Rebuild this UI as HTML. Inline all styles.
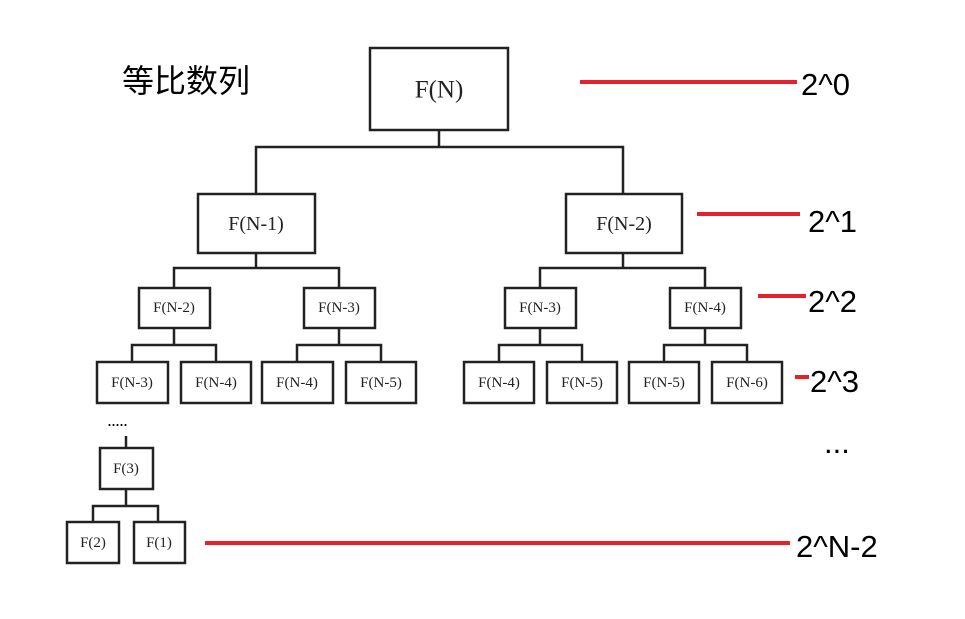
<!DOCTYPE html>
<html><head><meta charset="utf-8"><style>
html,body{margin:0;padding:0;background:#fff;}
svg{display:block;}
.b{fill:#fff;stroke:#222;stroke-width:2.5;}
.l{stroke:#222;stroke-width:2.5;fill:none;}
.r{stroke:#e8202a;stroke-width:4;}
.t{font-family:"Liberation Serif",serif;fill:#222;text-anchor:middle;dominant-baseline:central;}
.s{font-family:"Liberation Sans","Noto Sans CJK SC",sans-serif;fill:#000;}
</style></head><body>
<svg width="965" height="619" viewBox="0 0 965 619" xmlns="http://www.w3.org/2000/svg">
<text class="s" x="122" y="92" font-size="32">等比数列</text>
<!-- connectors -->
<path class="l" d="M439 130V147M256 194V147H623V194"/>
<path class="l" d="M256 253V268M174 288V268H339V288M623 253V268M540 288V268H705V288"/>
<path class="l" d="M174 328V345M132 362V345H216V362M339 328V345M297 362V345H381V362M540 328V345M499 362V345H582V362M705 328V345M664 362V345H747V362"/>
<path class="l" d="M126 436V448M126 489V506M93 522V506H158V522"/>
<!-- boxes -->
<rect class="b" x="370" y="48" width="138" height="82"/>
<text class="t" x="439" y="90" font-size="25">F(N)</text>
<rect class="b" x="198" y="194" width="117" height="59"/>
<text class="t" x="256" y="224" font-size="20">F(N-1)</text>
<rect class="b" x="566" y="194" width="116" height="59"/>
<text class="t" x="624" y="224" font-size="20">F(N-2)</text>
<g font-size="15">
<rect class="b" x="139" y="288" width="71" height="40"/><text class="t" x="174" y="308" font-size="15">F(N-2)</text>
<rect class="b" x="304" y="288" width="71" height="40"/><text class="t" x="339" y="308" font-size="15">F(N-3)</text>
<rect class="b" x="505" y="288" width="71" height="40"/><text class="t" x="540" y="308" font-size="15">F(N-3)</text>
<rect class="b" x="670" y="288" width="71" height="40"/><text class="t" x="705" y="308" font-size="15">F(N-4)</text>
<rect class="b" x="97" y="362" width="71" height="41"/><text class="t" x="132" y="383" font-size="15">F(N-3)</text>
<rect class="b" x="181" y="362" width="70" height="41"/><text class="t" x="216" y="383" font-size="15">F(N-4)</text>
<rect class="b" x="262" y="362" width="71" height="41"/><text class="t" x="297" y="383" font-size="15">F(N-4)</text>
<rect class="b" x="346" y="362" width="70" height="41"/><text class="t" x="381" y="383" font-size="15">F(N-5)</text>
<rect class="b" x="464" y="362" width="70" height="41"/><text class="t" x="499" y="383" font-size="15">F(N-4)</text>
<rect class="b" x="547" y="362" width="70" height="41"/><text class="t" x="582" y="383" font-size="15">F(N-5)</text>
<rect class="b" x="629" y="362" width="70" height="41"/><text class="t" x="664" y="383" font-size="15">F(N-5)</text>
<rect class="b" x="712" y="362" width="70" height="41"/><text class="t" x="747" y="383" font-size="15">F(N-6)</text>
<rect class="b" x="100" y="448" width="53" height="41"/><text class="t" x="126" y="469" font-size="15">F(3)</text>
<rect class="b" x="67" y="522" width="52" height="41"/><text class="t" x="93" y="543" font-size="15">F(2)</text>
<rect class="b" x="134" y="522" width="51" height="41"/><text class="t" x="159" y="543" font-size="15">F(1)</text>
</g>
<text class="s" x="107" y="426" font-size="18" letter-spacing="-1">.....</text>
<!-- red lines -->
<line class="r" x1="580" y1="82" x2="797" y2="82"/>
<line class="r" x1="697" y1="214" x2="800" y2="214"/>
<line class="r" x1="758" y1="296" x2="806" y2="296"/>
<line class="r" x1="795" y1="377" x2="809" y2="377"/>
<line class="r" x1="205" y1="543" x2="790" y2="543"/>
<!-- labels -->
<text class="s" x="801" y="95" font-size="31">2^0</text>
<text class="s" x="808" y="232" font-size="31">2^1</text>
<text class="s" x="808" y="312" font-size="31">2^2</text>
<text class="s" x="810" y="392" font-size="31">2^3</text>
<text class="s" x="824" y="453" font-size="31">...</text>
<text class="s" x="796" y="557" font-size="31">2^N-2</text>
</svg>
</body></html>
